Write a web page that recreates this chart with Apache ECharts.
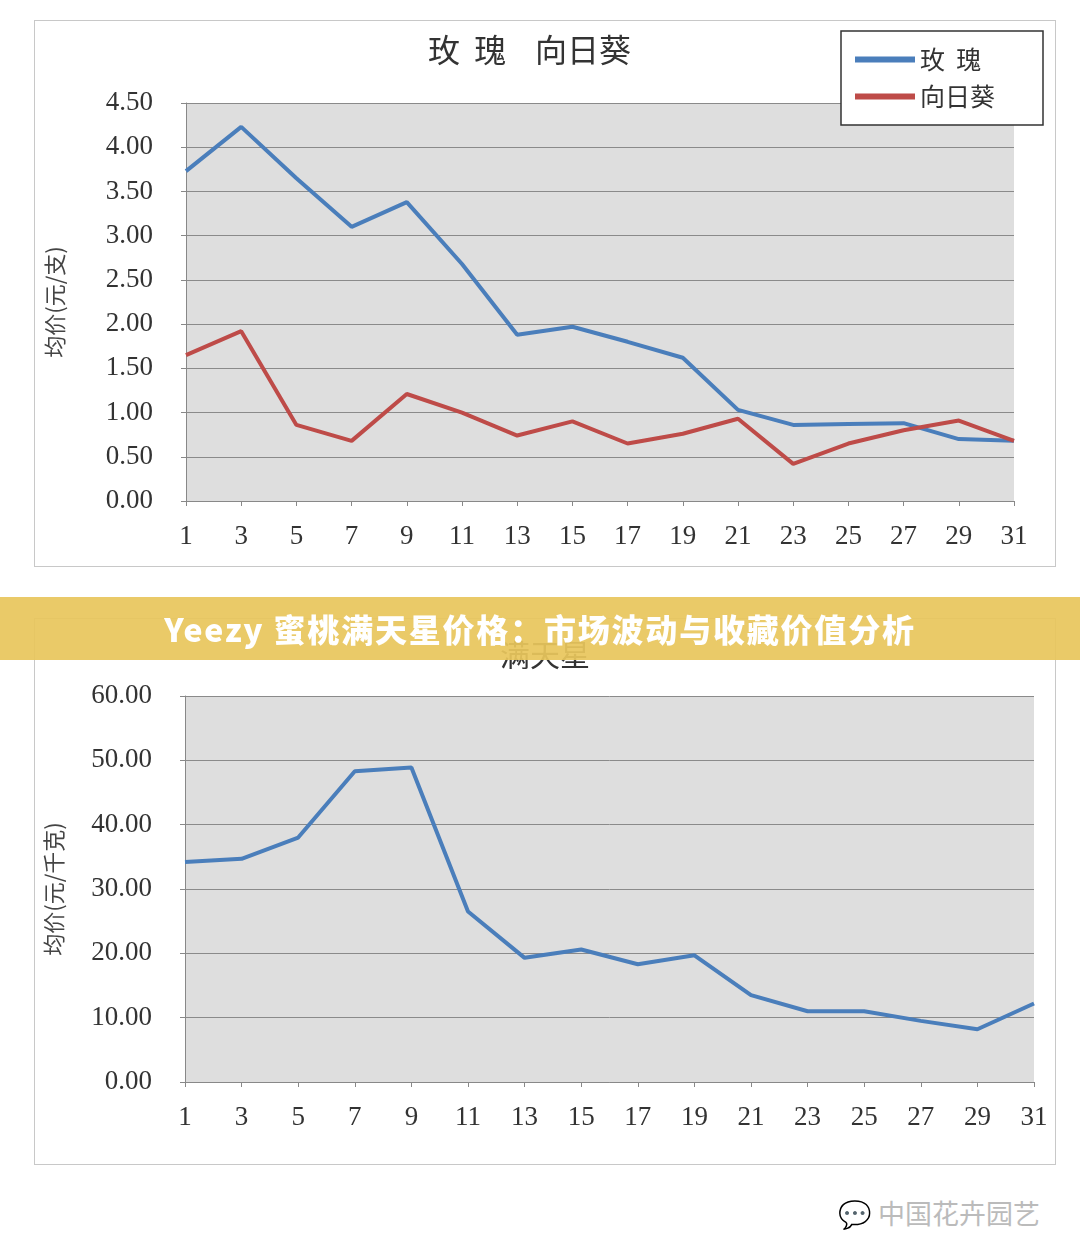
<!DOCTYPE html>
<html lang="zh">
<head>
<meta charset="UTF-8">
<script src="https://cdn.jsdelivr.net/npm/echarts@6/dist/echarts.min.js"></script>
<style>
    body { margin: 0; width: 1080px; height: 1259px; background: #fff; position: relative; overflow: hidden;
           font-family: "Noto Sans CJK SC", sans-serif; }
    .box { position: absolute; left: 34px; width: 1020px; height: 545px; border: 1px solid #c8c8c8; background: #fff; }
    #c1 { top: 20px; }
    #c2 { top: 618px; }
    .banner { position: absolute; left: 0; top: 597px; width: 1080px; height: 63px; background: rgba(232,198,92,0.93);
              color: #fff; font-weight: 900; font-size: 32px; line-height: 63px; text-align: center; letter-spacing: 1.8px; }
    .mark { position: absolute; left: 838px; top: 1193px; font-size: 27px; color: #bbb; }
</style>
</head>
<body>
<div id="c1" class="box"></div>
<div id="c2" class="box"></div>
<div class="banner">Yeezy 蜜桃满天星价格：市场波动与收藏价值分析</div>
<div class="mark">💬 中国花卉园艺</div>
<script>
    // 日期（每两天一个点）
    let days = ["1","3","5","7","9","11","13","15","17","19","21","23","25","27","29","31"];
    let rose = [3.73, 4.23, 3.65, 3.10, 3.38, 2.68, 1.88, 1.97, 1.80, 1.62, 1.03, 0.86, 0.87, 0.88, 0.70, 0.68];
    let sunflower = [1.65, 1.92, 0.86, 0.68, 1.21, 1.00, 0.74, 0.90, 0.65, 0.76, 0.93, 0.42, 0.65, 0.80, 0.91, 0.68];
    let gypsophila = [34.2, 34.7, 38.0, 48.3, 48.9, 26.5, 19.3, 20.6, 18.3, 19.7, 13.5, 11.0, 11.0, 9.5, 8.2, 12.2];

    const font = "Liberation Serif";
    function axes(max, step, name, grid) {
        return {
            grid: Object.assign({ show: true, backgroundColor: "#dedede", borderWidth: 0 }, grid),
            xAxis: {
                type: "category", data: days, boundaryGap: false,
                axisLine: { lineStyle: { color: "#888" } },
                axisTick: { show: true, length: 5, lineStyle: { color: "#888" } },
                axisLabel: { color: "#333", fontSize: 27, fontFamily: font, margin: 22 }
            },
            yAxis: {
                type: "value", min: 0, max: max, interval: step,
                name: name, nameLocation: "middle", nameGap: 120, nameRotate: 90,
                nameTextStyle: { color: "#444", fontSize: 22, fontFamily: "Noto Sans CJK SC" },
                axisLine: { show: true, lineStyle: { color: "#888" } },
                axisTick: { show: true, length: 5, lineStyle: { color: "#888" } },
                axisLabel: { color: "#333", fontSize: 27, fontFamily: font, margin: 33, formatter: v => v.toFixed(2) },
                splitLine: { lineStyle: { color: "#8a8a8a", width: 1 } }
            }
        };
    }

    let c1 = echarts.init(document.getElementById("c1"));
    c1.setOption(Object.assign(axes(4.5, 0.5, "均价(元/支)", { left: 151, right: 41, top: 82, bottom: 65 }), {
        title: { text: "玫  瑰    向日葵", left: 388, top: 8, textStyle: { fontSize: 32, fontWeight: "normal", color: "#333", fontFamily: "Noto Sans CJK SC" } },
        legend: {
            orient: "vertical", left: 806, top: 10, width: 200, padding: [16, 48, 16, 14],
            backgroundColor: "#fff", borderColor: "#333", borderWidth: 1.5, itemGap: 12,
            itemWidth: 60, itemHeight: 6, icon: "rect",
            textStyle: { fontSize: 25, color: "#333", fontFamily: "Noto Sans CJK SC" }
        },
        series: [
            { name: "玫  瑰", type: "line", data: rose, symbol: "none", lineStyle: { color: "#4a7ebb", width: 4 }, itemStyle: { color: "#4a7ebb" } },
            { name: "向日葵", type: "line", data: sunflower, symbol: "none", lineStyle: { color: "#be4b48", width: 4 }, itemStyle: { color: "#be4b48" } }
        ]
    }));

    let c2 = echarts.init(document.getElementById("c2"));
    c2.setOption(Object.assign(axes(60, 10, "均价(元/千克)", { left: 149, right: 21, top: 77, bottom: 82 }), {
        title: { text: "满天星", left: "center", top: 16, textStyle: { fontSize: 30, fontWeight: "normal", color: "#333", fontFamily: "Noto Sans CJK SC" } },
        series: [
            { name: "满天星", type: "line", data: gypsophila, symbol: "none", lineStyle: { color: "#4a7ebb", width: 4 } }
        ]
    }));
</script>
</body>
</html>
